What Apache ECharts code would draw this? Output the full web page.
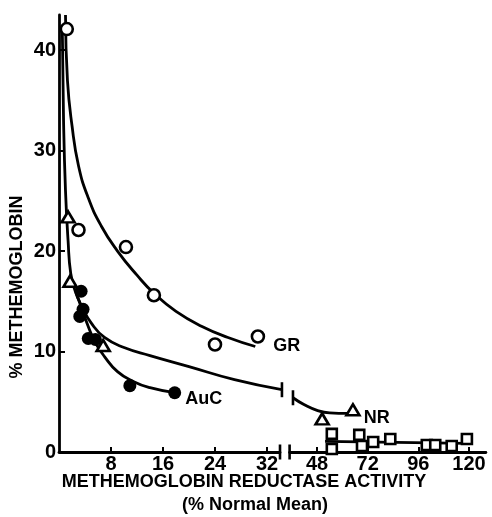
<!DOCTYPE html>
<html><head><meta charset="utf-8">
<script src="https://cdn.jsdelivr.net/npm/echarts@6/dist/echarts.min.js"></script>
<style>html,body{margin:0;padding:0;background:#fff}#c{width:492px;height:517px}</style>
</head><body><div id="c"></div>
<script>
// ---- data ----
const leftTicks = [8, 16, 24, 32];
const rightTicks = [48, 72, 96, 120];
const yTicks = [0, 10, 20, 30, 40];

const grPoints = [[1.2, 42.1], [3.0, 22.1], [10.3, 20.4], [14.6, 15.6], [24.0, 10.7], [30.6, 11.5]];
const grCurve = [[1.0, 43.5], [1.3, 37], [2.0, 32.5], [3.0, 28.5], [4.5, 25.3], [6.5, 22.5], [9, 20.0], [12, 17.6], [14.6, 15.8], [18, 14.0], [22, 12.5], [26, 11.4], [30.2, 10.5]];

const nrPointsLeft = [[1.4, 23.4], [1.7, 17.0], [6.8, 10.6]];
const nrPointsRight = [[50.4, 3.3], [65, 4.2]];
const nrCurveLeft = [[0.5, 42.5], [0.7, 33], [1.0, 26], [1.4, 21], [1.8, 17.8], [2.5, 16.0], [3.5, 14.5], [5, 12.8], [7, 11.4], [10, 10.4], [14, 9.6], [20, 8.5], [27, 7.2], [34.3, 6.2]];
const nrCurveRight = [[36.6, 5.4], [42, 4.7], [48, 4.15], [54, 3.9], [62.6, 3.85]];

const aucPoints = [[3.4, 16.0], [3.7, 14.2], [3.2, 13.5], [4.5, 11.3], [5.6, 11.2], [10.9, 6.6], [17.8, 5.9]];
const aucCurve = [[2.6, 15.9], [3.5, 14.3], [4.5, 12.5], [5.5, 11.0], [7, 9.5], [9, 8.0], [11.5, 7.0], [14, 6.4], [17.8, 5.9]];

const sqPoints = [[55, 1.8], [55, 0.3], [68, 1.7], [69.3, 0.6], [74.6, 1.0], [82.7, 1.3], [100, 0.7], [104, 0.7], [111.8, 0.6], [119, 1.3]];
const sqLine = [[51.8, 1.05], [119, 0.85]];

const breakLeft = [[34, 0], [34.3, 6.2]];
const breakRight = [[35, 0], [36.6, 5.4]];

// ---- chart ----
const FONT = 'Liberation Sans';
const BLK = '#000';
const LW = 2.8;
const chart = echarts.init(document.getElementById('c'), null, {renderer: 'canvas'});

function axisX(idx, min, max, ticks) {
  return {
    type: 'value', gridIndex: idx, min: min, max: max,
    axisLine: {show: true, onZero: false, lineStyle: {color: BLK, width: LW}},
    axisTick: {show: true, inside: true, length: 5, lineStyle: {color: BLK, width: 2}, customValues: ticks},
    axisLabel: {show: true, color: BLK, fontFamily: FONT, fontWeight: 'bold', fontSize: 20, margin: 2, customValues: ticks},
    splitLine: {show: false}
  };
}
function axisY(idx, show) {
  return {
    type: 'value', gridIndex: idx, min: 0, max: 43.5, show: show,
    axisLine: {show: true, lineStyle: {color: BLK, width: LW}},
    axisTick: {show: true, inside: true, length: 6, lineStyle: {color: BLK, width: 2}, customValues: yTicks},
    axisLabel: {show: true, color: BLK, fontFamily: FONT, fontWeight: 'bold', fontSize: 20, margin: 3, customValues: yTicks},
    splitLine: {show: false}
  };
}
const lineBase = {type: 'line', smooth: 0.5, showSymbol: false, symbol: 'none', clip: false,
  lineStyle: {color: BLK, width: LW}, silent: true, z: 2};
const openStyle = {color: '#fff', borderColor: BLK, borderWidth: 2.6, opacity: 1};
const lbl = {color: BLK, fontFamily: FONT, fontWeight: 'bold', fontSize: 18};

function withLabel(arr, text, dist, off) {
  return arr.map((p, i) => i === arr.length - 1 ?
    {value: p, label: Object.assign({show: true, formatter: text, position: 'right', distance: dist, offset: off}, lbl)} : p);
}

chart.setOption({
  animation: false,
  backgroundColor: '#fff',
  grid: [
    {left: 59, top: 15, width: 221, height: 437},
    {left: 289.6, top: 15, width: 196.3, height: 437}
  ],
  xAxis: [axisX(0, 0, 34, leftTicks), axisX(1, 35, 128, rightTicks)],
  yAxis: [axisY(0, true), axisY(1, false)],
  graphic: [
    {type: 'text', x: 17, y: 287, rotation: Math.PI / 2,
      style: {text: '% METHEMOGLOBIN', align: 'center', verticalAlign: 'middle', fill: BLK, font: 'bold 18px "' + FONT + '"'}},
    {type: 'text', x: 244, y: 482,
      style: {text: 'METHEMOGLOBIN REDUCTASE ACTIVITY', align: 'center', verticalAlign: 'middle', fill: BLK, font: 'bold 18px "' + FONT + '"'}},
    {type: 'text', x: 255, y: 505,
      style: {text: '(% Normal Mean)', align: 'center', verticalAlign: 'middle', fill: BLK, font: 'bold 18px "' + FONT + '"'}}
  ],
  series: [
    Object.assign({}, lineBase, {xAxisIndex: 0, yAxisIndex: 0, data: grCurve}),
    Object.assign({}, lineBase, {xAxisIndex: 0, yAxisIndex: 0, data: nrCurveLeft}),
    Object.assign({}, lineBase, {xAxisIndex: 0, yAxisIndex: 0, data: aucCurve}),
    Object.assign({}, lineBase, {xAxisIndex: 1, yAxisIndex: 1, data: nrCurveRight}),
    Object.assign({}, lineBase, {xAxisIndex: 1, yAxisIndex: 1, smooth: false, data: sqLine}),
    {type: 'scatter', xAxisIndex: 0, yAxisIndex: 0, symbol: 'circle', symbolSize: 12, itemStyle: openStyle, z: 3, clip: false,
      data: withLabel(grPoints, 'GR', 8, [0, 10])},
    {type: 'scatter', xAxisIndex: 0, yAxisIndex: 0, symbol: 'triangle', symbolSize: [13, 11], itemStyle: openStyle, z: 3, clip: false,
      data: nrPointsLeft},
    {type: 'scatter', xAxisIndex: 1, yAxisIndex: 1, symbol: 'triangle', symbolSize: [13, 11], itemStyle: openStyle, z: 3, clip: false,
      data: withLabel(nrPointsRight, 'NR', 3, [0, 8])},
    {type: 'scatter', xAxisIndex: 0, yAxisIndex: 0, symbol: 'circle', symbolSize: 13, itemStyle: {color: BLK, opacity: 1}, z: 4, clip: false,
      data: withLabel(aucPoints, 'AuC', 4, [0, 6])},
    {type: 'scatter', xAxisIndex: 1, yAxisIndex: 1, symbol: 'rect', symbolSize: 10, itemStyle: openStyle, z: 3, clip: false,
      data: sqPoints},
    {type: 'scatter', xAxisIndex: 0, yAxisIndex: 0, symbol: 'rect', symbolSize: [2.6, 15], itemStyle: {color: BLK, opacity: 1}, z: 5, clip: false,
      data: breakLeft},
    {type: 'scatter', xAxisIndex: 1, yAxisIndex: 1, symbol: 'rect', symbolSize: [2.6, 15], itemStyle: {color: BLK, opacity: 1}, z: 5, clip: false,
      data: breakRight}
  ]
});
</script></body></html>
